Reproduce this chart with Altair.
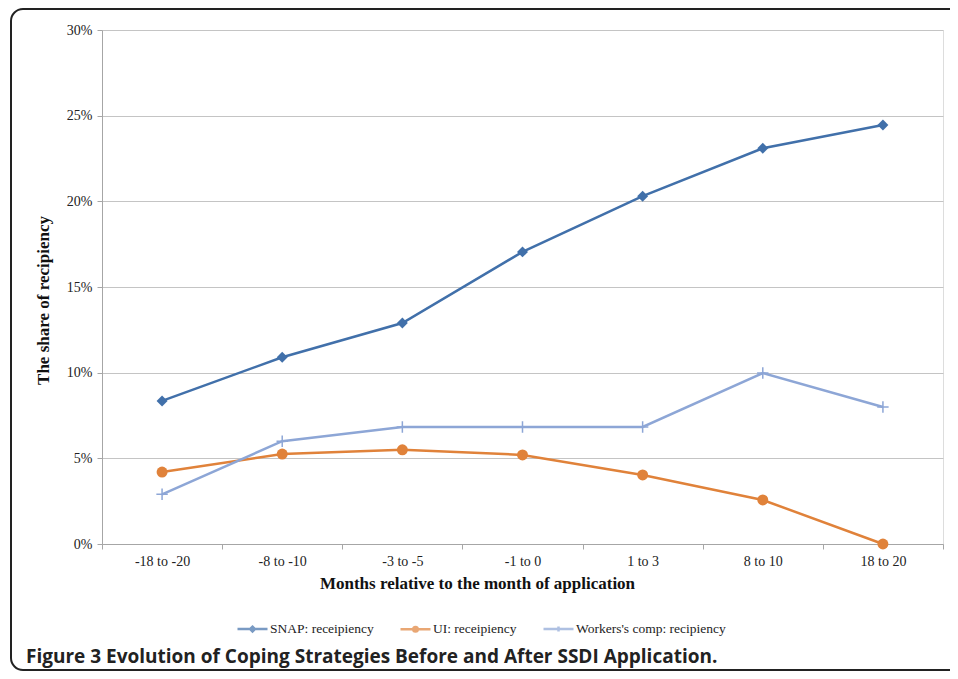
import altair as alt
import pandas as pd

categories = ["-18 to -20", "-8 to -10", "-3 to -5", "-1 to 0", "1 to 3", "8 to 10", "18 to 20"]
series_names = ["SNAP: receipiency", "UI: receipiency", "Workers's comp: recipiency"]
snap = [0.0835, 0.109, 0.129, 0.1705, 0.203, 0.231, 0.2445]
ui = [0.042, 0.0525, 0.055, 0.052, 0.0403, 0.0257, 0.0]
workers = [0.029, 0.060, 0.0683, 0.0683, 0.0683, 0.0998, 0.080]
colors = ["#4170AA", "#E0823A", "#8DA6D6"]
y_ticks = [0, 0.05, 0.10, 0.15, 0.20, 0.25, 0.30]
caption = ["Figure 3 Evolution of Coping Strategies Before and After SSDI Application."]

rows = []
for name, vals in zip(series_names, [snap, ui, workers]):
    for c, v in zip(categories, vals):
        rows.append({"cat": c, "series": name, "value": v})
df = pd.DataFrame(rows)

SERIF = "Liberation Serif"

legend_shapes = [
    "M-1,0L1,0M0,-0.16L0.16,0L0,0.16L-0.16,0Z",
    "M-1,0L1,0M-0.15,0A0.15,0.15,0,1,0,0.15,0A0.15,0.15,0,1,0,-0.15,0Z",
    "M-1,0L1,0M0,-0.17L0,0.17",
]

x_enc = alt.X(
    "cat:N",
    sort=categories,
    scale=alt.Scale(type="band", paddingInner=0, paddingOuter=0),
    axis=alt.Axis(
        title="Months relative to the month of application",
        tickBand="extent",
        labelAngle=0,
        labelFont=SERIF,
        labelFontSize=14,
        labelColor="#222222",
        labelPadding=5,
        tickSize=5,
        tickColor="#A6A6A6",
        domainColor="#A6A6A6",
        titleFont=SERIF,
        titleFontSize=17,
        titleFontWeight="bold",
        titleColor="#111111",
        titleX=375,
        titleY=44,
        titleAlign="center",
        titleBaseline="alphabetic",
        grid=False,
    ),
)
y_enc = alt.Y(
    "value:Q",
    scale=alt.Scale(domain=[0, 0.30], nice=False),
    axis=alt.Axis(
        title="The share of recipiency",
        values=y_ticks,
        format=".0%",
        labelFont=SERIF,
        labelFontSize=14,
        labelColor="#222222",
        labelPadding=5,
        tickSize=5,
        tickColor="#A6A6A6",
        domainColor="#A6A6A6",
        gridColor="#C4C4C4",
        titleFont=SERIF,
        titleFontSize=17,
        titleFontWeight="bold",
        titleColor="#111111",
        titleX=-59,
        titleY=270,
        titleAngle=270,
        titleAlign="center",
        titleBaseline="middle",
    ),
)
color_scale = alt.Scale(domain=series_names, range=colors)


def make_legend():
    return alt.Legend(
        title=None,
        orient="none",
        legendX=134,
        legendY=582,
        direction="horizontal",
        columns=3,
        columnPadding=21,
        padding=0,
        symbolSize=900,
        symbolStrokeWidth=2.5,
        labelOffset=1,
        labelFont=SERIF,
        labelFontSize=13.5,
        labelColor="#222222",
    )


lines = alt.Chart(df).mark_line(strokeWidth=2.5).encode(
    x=x_enc,
    y=y_enc,
    color=alt.Color("series:N", scale=color_scale, sort=series_names, legend=make_legend()),
)

# tiny points whose shape channel supplies the line-plus-marker legend symbols
legend_layer = alt.Chart(df).mark_point(filled=True, strokeWidth=2.5, size=1).encode(
    x=x_enc,
    y=y_enc,
    shape=alt.Shape(
        "series:N",
        scale=alt.Scale(domain=series_names, range=legend_shapes),
        legend=make_legend(),
    ),
)

snap_pts = alt.Chart(df[df.series == series_names[0]]).mark_point(
    shape="diamond", filled=True, size=120, opacity=1, color=colors[0]
).encode(x=x_enc, y=y_enc)
ui_pts = alt.Chart(df[df.series == series_names[1]]).mark_point(
    shape="circle", filled=True, size=120, opacity=1, color=colors[1]
).encode(x=x_enc, y=y_enc)
wk_pts = alt.Chart(df[df.series == series_names[2]]).mark_point(
    shape="M-1,0L1,0M0,-1L0,1", filled=False, size=130, strokeWidth=1.5, opacity=1, color=colors[2]
).encode(x=x_enc, y=y_enc)

frame = alt.Chart(pd.DataFrame({"k": [0]})).mark_rect(
    fill=None, stroke="#222222", strokeWidth=2, cornerRadius=12
).encode(
    x=alt.value(-91), x2=alt.value(880), y=alt.value(-21), y2=alt.value(640)
)

cap = alt.Chart(pd.DataFrame({"t": caption})).mark_text(
    align="left", baseline="alphabetic", font="Open Sans", fontSize=19,
    fontWeight="bold", color="#222222"
).encode(text="t:N", x=alt.value(-76), y=alt.value(633))

chart = alt.layer(frame, lines, wk_pts, ui_pts, snap_pts, legend_layer, cap).properties(
    width=841,
    height=514,
    autosize=alt.AutoSizeParams(type="none"),
    padding={"left": 94, "top": 22, "right": 7, "bottom": 127},
).configure_view(stroke=None).configure(background="white")

chart.save("out.html", embed_options={"renderer": "svg", "actions": False})
